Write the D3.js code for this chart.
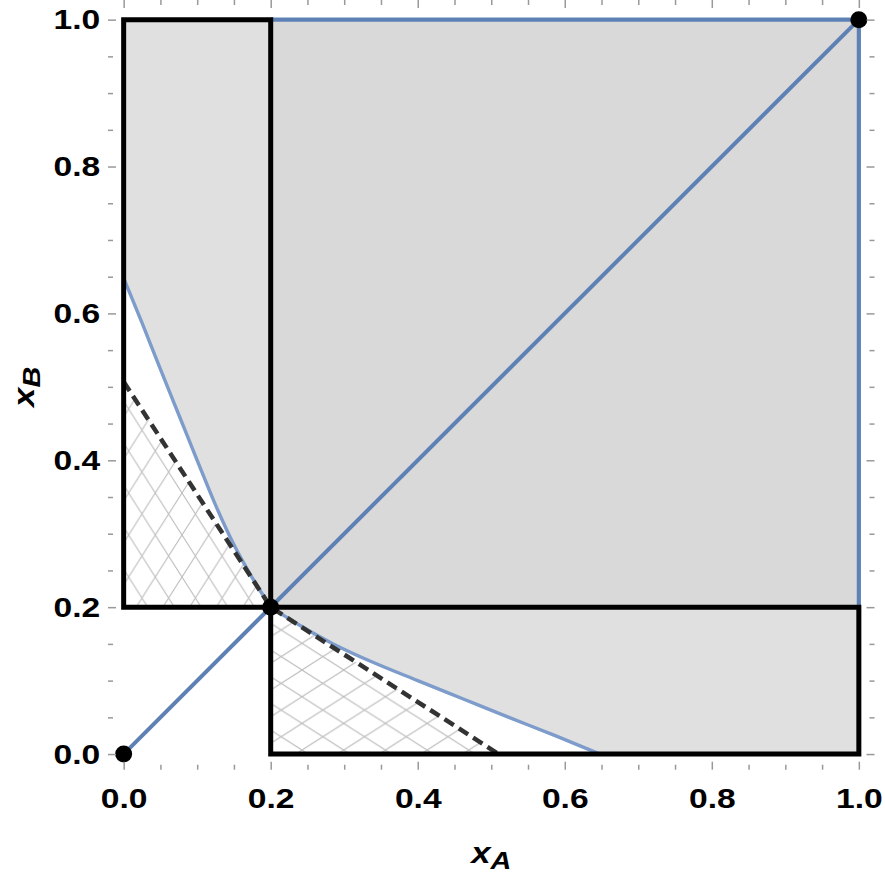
<!DOCTYPE html>
<html>
<head>
<meta charset="utf-8">
<script src="https://cdn.jsdelivr.net/npm/d3@7"></script>
<style>
  body { margin: 0; background: #fff; }
  svg { display: block; }
  .tick text { font-family: "Liberation Sans", Arial, sans-serif; font-weight: bold; font-size: 28px; fill: #000; }
  .axis-title { font-family: "Liberation Sans", Arial, sans-serif; font-weight: bold; font-style: italic; fill: #000; }
</style>
</head>
<body>
<div id="chart"></div>
<script>
// values
var majorTicks = [0, 0.2, 0.4, 0.6, 0.8, 1.0];
var minorTicks = [0.05, 0.1, 0.15, 0.25, 0.3, 0.35, 0.45, 0.5, 0.55, 0.65, 0.7, 0.75, 0.85, 0.9, 0.95];

// boundary curve (x_A -> x_B); the lower one is the same curve mirrored
var curveA = [0, 0.025, 0.05, 0.075, 0.1, 0.125, 0.15, 0.175, 0.2];
var curveB = [0.648, 0.587, 0.524, 0.462, 0.400, 0.339, 0.285, 0.240, 0.2];

// dashed line: x_B at x_A = 0, the pivot, and x_A at x_B = 0
var dashStart = 0.507;
var pivot = 0.2;
var dashEnd = 0.51;

var dots = [[0, 0], [0.2, 0.2], [1, 1]];

var width = 885, height = 875;
var pad = 0.0213;
var stretch = 1.2; // glyphs in the picture are drawn wide

var x = d3.scaleLinear().domain([-pad, 1 + pad]).range([108, 874.5]);
var y = d3.scaleLinear().domain([-pad, 1 + pad]).range([769.7, 4]);

var svg = d3.select('#chart').append('svg')
  .attr('width', width).attr('height', height);

var defs = svg.append('defs');

function hatch(id, px, py, w, h){
  var p = defs.append('pattern')
    .attr('id', id)
    .attr('patternUnits', 'userSpaceOnUse')
    .attr('x', px).attr('y', py)
    .attr('width', w).attr('height', h);
  p.append('path')
    .attr('d', 'M' + [-w, -h] + 'L' + [2 * w, 2 * h] + 'M' + [2 * w, -h] + 'L' + [-w, 2 * h])
    .attr('stroke', '#bdbdbd')
    .attr('stroke-width', 1.1)
    .attr('fill', 'none');
}
hatch('hatchTall', 155.3, 535, 26.7, 42);
hatch('hatchWide', 302, 670, 41.7, 26.7);

var g = svg.append('g');

function rectPts(x0, y0, x1, y1){
  return [[x0, y0], [x1, y0], [x1, y1], [x0, y1]];
}
var poly = d3.line().x(function(d){ return x(d[0]); }).y(function(d){ return y(d[1]); });
var smoothX = d3.line().x(function(d){ return x(d[0]); }).y(function(d){ return y(d[1]); })
  .curve(d3.curveMonotoneX);
var smoothY = d3.line().x(function(d){ return x(d[0]); }).y(function(d){ return y(d[1]); })
  .curve(d3.curveMonotoneY);

var upperCurve = curveA.map(function(a, i){ return [a, curveB[i]]; });
var lowerCurve = curveA.map(function(a, i){ return [curveB[i], a]; });

// grey regions
g.append('path').attr('d', poly(rectPts(0, pivot, pivot, 1)) + 'Z').attr('fill', '#e0e0e0');
g.append('path').attr('d', poly(rectPts(pivot, 0, 1, pivot)) + 'Z').attr('fill', '#e0e0e0');
g.append('path').attr('d', poly(rectPts(pivot, pivot, 1, 1)) + 'Z').attr('fill', '#d9d9d9');

// white areas under the curves
g.append('path')
  .attr('d', smoothX(upperCurve) + 'L' + [x(0), y(pivot)] + 'Z')
  .attr('fill', '#fff');
g.append('path')
  .attr('d', smoothY(lowerCurve) + 'L' + [x(pivot), y(0)] + 'Z')
  .attr('fill', '#fff');

// hatched triangles
g.append('path')
  .attr('d', poly([[0, pivot], [0, dashStart], [pivot, pivot]]) + 'Z')
  .attr('fill', 'url(#hatchTall)');
g.append('path')
  .attr('d', poly([[pivot, 0], [pivot, pivot], [dashEnd, 0]]) + 'Z')
  .attr('fill', 'url(#hatchWide)');

// blue lines
var blue = '#5e81b5';
g.append('path').attr('d', poly([[0, 0], [1, 1]]))
  .attr('stroke', blue).attr('stroke-width', 4).attr('fill', 'none');
g.append('path').attr('d', poly([[pivot, 1], [1, 1], [1, pivot]]))
  .attr('stroke', blue).attr('stroke-width', 4.2).attr('fill', 'none');

// boundary curves
g.append('path').attr('d', smoothX(upperCurve))
  .attr('stroke', '#7d9ccb').attr('stroke-width', 3.4).attr('fill', 'none');
g.append('path').attr('d', smoothY(lowerCurve))
  .attr('stroke', '#7d9ccb').attr('stroke-width', 3.4).attr('fill', 'none');

// dashed lines
g.append('path').attr('d', poly([[0, dashStart], [pivot, pivot], [dashEnd, 0]]))
  .attr('stroke', '#333').attr('stroke-width', 4.5)
  .attr('stroke-dasharray', '11,6').attr('fill', 'none');

// black boxes
g.append('path').attr('d', poly(rectPts(0, pivot, pivot, 1)) + 'Z')
  .attr('stroke', '#000').attr('stroke-width', 5).attr('fill', 'none');
g.append('path').attr('d', poly(rectPts(pivot, 0, 1, pivot)) + 'Z')
  .attr('stroke', '#000').attr('stroke-width', 5).attr('fill', 'none');

// dots
g.selectAll('circle').data(dots).enter().append('circle')
  .attr('cx', function(d){ return x(d[0]); })
  .attr('cy', function(d){ return y(d[1]); })
  .attr('r', 8.5)
  .attr('fill', '#000');

// frame and ticks
var frameColor = '#999';
function styleAxis(sel){
  sel.select('.domain').remove();
  sel.selectAll('.tick line').attr('stroke', frameColor).attr('stroke-width', 1.5);
}
var fmt = d3.format('.1f');
var left = x.range()[0], right = x.range()[1];
var bottom = y.range()[0], top = y.range()[1];

svg.append('g').attr('transform', 'translate(0,' + bottom + ')')
  .call(d3.axisBottom(x).tickValues(majorTicks).tickSize(-8).tickPadding(18).tickFormat(fmt))
  .call(styleAxis)
  .selectAll('.tick text').attr('transform', 'scale(' + stretch + ',1)');
svg.append('g').attr('transform', 'translate(0,' + bottom + ')')
  .call(d3.axisBottom(x).tickValues(minorTicks).tickSize(-5).tickFormat(''))
  .call(styleAxis);
svg.append('g').attr('transform', 'translate(0,' + top + ')')
  .call(d3.axisTop(x).tickValues(majorTicks).tickSize(-8).tickFormat(''))
  .call(styleAxis);
svg.append('g').attr('transform', 'translate(0,' + top + ')')
  .call(d3.axisTop(x).tickValues(minorTicks).tickSize(-5).tickFormat(''))
  .call(styleAxis);
svg.append('g').attr('transform', 'translate(' + left + ',0)')
  .call(d3.axisLeft(y).tickValues(majorTicks).tickSize(-8).tickPadding(6.5).tickFormat(fmt))
  .call(styleAxis)
  .selectAll('.tick text').attr('transform', 'scale(' + stretch + ',1)');
svg.append('g').attr('transform', 'translate(' + left + ',0)')
  .call(d3.axisLeft(y).tickValues(minorTicks).tickSize(-5).tickFormat(''))
  .call(styleAxis);
svg.append('g').attr('transform', 'translate(' + right + ',0)')
  .call(d3.axisRight(y).tickValues(majorTicks).tickSize(-8).tickFormat(''))
  .call(styleAxis);
svg.append('g').attr('transform', 'translate(' + right + ',0)')
  .call(d3.axisRight(y).tickValues(minorTicks).tickSize(-5).tickFormat(''))
  .call(styleAxis);

svg.append('rect')
  .attr('x', left).attr('y', top)
  .attr('width', right - left).attr('height', bottom - top)
  .attr('fill', 'none').attr('stroke', frameColor).attr('stroke-width', 1.5);

// axis titles
var xt = svg.append('text').attr('class', 'axis-title')
  .attr('transform', 'translate(' + x(0.5) + ',863) scale(' + stretch + ',1)')
  .attr('text-anchor', 'middle');
xt.append('tspan').attr('font-size', 29).text('x');
xt.append('tspan').attr('font-size', 24).attr('dy', 6).text('A');

var yt = svg.append('text').attr('class', 'axis-title')
  .attr('transform', 'translate(34,' + y(0.5) + ') rotate(-90) scale(' + stretch + ',1)')
  .attr('text-anchor', 'middle');
yt.append('tspan').attr('font-size', 29).text('x');
yt.append('tspan').attr('font-size', 24).attr('dy', 6).text('B');
</script>
</body>
</html>
